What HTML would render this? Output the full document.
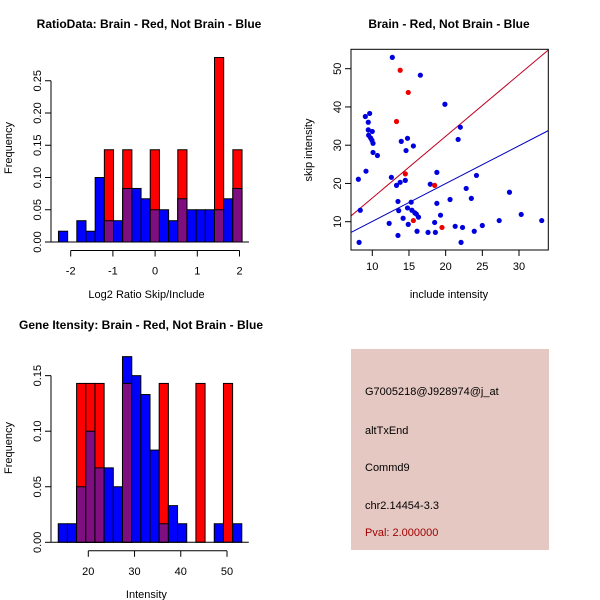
<!DOCTYPE html>
<html><head><meta charset="utf-8"><style>
html,body{margin:0;padding:0;background:#fff}
svg{display:block;font-family:"Liberation Sans",sans-serif}
</style></head><body>
<svg id="s" width="600" height="600" viewBox="0 0 600 600">
<rect width="600" height="600" fill="#fff"/>
<text x="149" y="28" font-size="12" font-weight="bold" text-anchor="middle">RatioData: Brain - Red, Not Brain - Blue</text>
<text x="449" y="28" font-size="12" font-weight="bold" text-anchor="middle">Brain - Red, Not Brain - Blue</text>
<text x="141" y="329" font-size="12" font-weight="bold" text-anchor="middle">Gene Itensity: Brain - Red, Not Brain - Blue</text>
<g id="p1"></g>
<g id="p2"></g>
<g id="p3"></g>
<g>
<rect x="351" y="349" width="198" height="201" fill="#e6c8c2"/>
<text x="365" y="395" font-size="11">G7005218@J928974@j_at</text>
<text x="365" y="434" font-size="11">altTxEnd</text>
<text x="365" y="471" font-size="11">Commd9</text>
<text x="365" y="509" font-size="11">chr2.14454-3.3</text>
<text x="365" y="536" font-size="11" fill="#a00000">Pval: 2.000000</text>
</g>
</svg>
<script>
// ---- data: ratio histogram ----
const ratioBinStart = -2.29;
const ratioBinWidth = 0.2175;
const ratioBlue = [0.0167,0,0.033,0.0167,0.1,0.033,0.033,0.083,0.083,0.067,0.05,0.05,0.033,0.067,0.05,0.05,0.05,0.05,0.067,0.083];
const ratioRed  = [0,0,0,0,0,0.143,0,0.143,0,0,0.143,0,0,0.143,0,0,0,0.286,0,0.143];
const ratioXTicks = [-2,-1,0,1,2];
const ratioYTicks = ["0.00","0.05","0.10","0.15","0.20","0.25"];
// ---- data: intensity histogram ----
const intBinStart = 13.5;
const intBinWidth = 1.985;
const intBlue = [0.0167,0.0167,0.05,0.1,0.067,0.067,0.05,0.167,0.15,0.133,0.083,0.0167,0.033,0.0167,0,0,0,0.0167,0,0.0167];
const intRed  = [0,0,0.143,0.143,0.143,0,0,0.143,0,0,0,0.143,0,0,0,0.143,0,0,0.143,0];
const intXTicks = [20,30,40,50];
const intYTicks = ["0.00","0.05","0.10","0.15"];
// ---- data: scatter ----
const blueX = [12.73,16.55,19.9,9.64,9.05,9.45,9.45,10.0,9.5,9.77,9.95,10.1,10.1,10.7,13.95,14.8,15.6,14.6,22.0,21.7,9.14,8.1,12.6,18.8,24.2,13.3,13.8,14.5,17.9,22.8,28.7,23.5,20.6,13.5,15.3,18.8,14.8,15.4,13.6,8.36,15.8,16.0,16.3,19.3,30.3,14.2,12.3,14.9,18.5,21.3,22.3,25.0,27.3,33.1,16.1,17.6,18.6,23.9,13.5,8.2,22.1];
const blueY = [52.96,48.3,40.7,38.3,37.5,36.0,34.0,33.6,32.6,31.9,31.3,30.5,28.1,27.3,31.0,31.8,29.8,28.6,34.7,31.5,23.2,21.1,21.6,22.9,22.1,19.5,20.3,20.8,19.8,18.7,17.7,16.1,15.8,15.3,15.1,14.8,13.6,13.0,12.9,13.0,12.3,12.0,11.2,11.7,11.9,10.9,9.56,9.3,9.8,8.8,8.5,9.0,10.3,10.3,7.5,7.2,7.2,7.5,6.4,4.6,4.6];
const redX = [13.8,14.9,13.3,14.5,18.5,15.6,19.5];
const redY = [49.6,43.8,36.2,22.5,19.5,10.3,8.5];
const redFit = [0.06,1.613];   // intercept, slope
const blueFit = [0.19,0.989];
const scXTicks = [10,15,20,25,30];
const scYTicks = [10,20,30,40,50];

const NS="http://www.w3.org/2000/svg";
function mk(parent,tag,attrs){const e=document.createElementNS(NS,tag);for(const k in attrs)e.setAttribute(k,attrs[k]);parent.appendChild(e);return e;}

function hist(g,o){
  const xs=v=>o.x0+(v-o.d0)*o.kx, ys=v=>o.y0-v*o.ky;
  for(let i=0;i<o.blue.length;i++){
    const a=xs(o.start+i*o.w), b=xs(o.start+(i+1)*o.w);
    const bl=o.blue[i], rd=o.red[i], mn=Math.min(bl,rd);
    if(bl>0){const r=mk(g,'rect',{x:a,y:ys(bl),width:b-a,height:ys(0)-ys(bl),fill:'#0000ff',stroke:'#000','stroke-width':1});
      
      }
    if(rd>0){const r=mk(g,'rect',{x:a,y:ys(rd),width:b-a,height:ys(0)-ys(rd),fill:'#ff0000',stroke:'#000','stroke-width':1});
      
      }
    if(bl>rd&&rd>0){const r=mk(g,'rect',{x:a,y:ys(bl),width:b-a,height:ys(rd)-ys(bl),fill:'#0000ff',stroke:'#000','stroke-width':1});
      
      }
    if(mn>0){const r=mk(g,'rect',{x:a,y:ys(mn),width:b-a,height:ys(0)-ys(mn),fill:'#7f0f80',stroke:'#000','stroke-width':1});
      
      }
  }
  const xl=xs(o.start), xr=xs(o.start+o.blue.length*o.w);
  const base=mk(g,'line',{x1:o.axX,x2:xr+7,y1:ys(0),y2:ys(0),stroke:'#000'});
  
  
  // y axis
  const ymax=parseFloat(o.yt[o.yt.length-1]);
  const ya1=mk(g,'line',{x1:o.axX,x2:o.axX,y1:ys(0),y2:ys(ymax),stroke:'#000'});
  
  
  o.yt.forEach(t=>{const v=parseFloat(t),y=ys(v);
    mk(g,'line',{x1:o.axX,x2:o.axX-6,y1:y,y2:y,stroke:'#000'});
    const tx=mk(g,'text',{x:0,y:0,'font-size':11,'text-anchor':'middle',transform:`translate(${o.axX-10},${y}) rotate(-90)`});
    tx.textContent=t;
    
    });
  // x axis
  const ya=ys(0)+8.5;
  const xa=mk(g,'line',{x1:xs(o.xt[0]),x2:xs(o.xt[o.xt.length-1]),y1:ya,y2:ya,stroke:'#000'});
  
  
  o.xt.forEach(t=>{const x=xs(t);
    mk(g,'line',{x1:x,x2:x,y1:ya,y2:ya+6,stroke:'#000'});
    const tx=mk(g,'text',{x:x,y:ya+24,'font-size':11,'text-anchor':'middle'});
    tx.textContent=t;
    
    });
  const xl2=mk(g,'text',{x:(o.axX+xr)/2,y:o.xlabY,'font-size':11,'text-anchor':'middle'});
  xl2.textContent=o.xlab;
  
  
  const yl=mk(g,'text',{x:0,y:0,'font-size':11,'text-anchor':'middle',transform:`translate(12,${o.yLabY}) rotate(-90)`});
  yl.textContent='Frequency';
  
  
}

hist(document.getElementById('p1'),{axX:51,x0:70.7,d0:-2,kx:42.2,y0:242,ky:645,start:ratioBinStart,w:ratioBinWidth,blue:ratioBlue,red:ratioRed,xt:ratioXTicks,yt:ratioYTicks,xlab:'Log2 Ratio Skip/Include',xlabY:298,yLabY:148});
hist(document.getElementById('p3'),{axX:51,x0:88.3,d0:20,kx:4.623,y0:542.3,ky:1111,start:intBinStart,w:intBinWidth,blue:intBlue,red:intRed,xt:intXTicks,yt:intYTicks,xlab:'Intensity',xlabY:598,yLabY:448});

// scatter
(function(){
  const g=document.getElementById('p2');
  const L=351,R=548.3,T=49.3,B=250;
  const xs=v=>372.3+(v-10)*7.335, ys=v=>221.7-(v-10)*3.825;
  const clip=mk(g,'clipPath',{id:'sc'});mk(clip,'rect',{x:L,y:T,width:R-L,height:B-T});
  const x0=(L-372.3)/7.335+10, x1=(R-372.3)/7.335+10;
  [[redFit,'#c00020','red-fit-line'],[blueFit,'#0000c0','blue-fit-line']].forEach(([f,c,n])=>{
    const l=mk(g,'line',{x1:xs(x0),y1:ys(f[0]+f[1]*x0),x2:xs(x1),y2:ys(f[0]+f[1]*x1),stroke:c,'clip-path':'url(#sc)'});
    
    });
  blueX.forEach((v,i)=>{const c=mk(g,'circle',{cx:xs(v),cy:ys(blueY[i]),r:2.6,fill:'#0000dd'});
    
    });
  redX.forEach((v,i)=>{const c=mk(g,'circle',{cx:xs(v),cy:ys(redY[i]),r:2.6,fill:'#ee0000'});
    
    });
  const box=mk(g,'rect',{x:L,y:T,width:R-L,height:B-T,fill:'none',stroke:'#000'});
  
  
  scXTicks.forEach(t=>{const x=xs(t);mk(g,'line',{x1:x,x2:x,y1:B,y2:B+6,stroke:'#000'});
    const tx=mk(g,'text',{x:x,y:B+20,'font-size':11,'text-anchor':'middle'});tx.textContent=t;
    
    });
  scYTicks.forEach(t=>{const y=ys(t);mk(g,'line',{x1:L,x2:L-6,y1:y,y2:y,stroke:'#000'});
    const tx=mk(g,'text',{x:0,y:0,'font-size':11,'text-anchor':'middle',transform:`translate(${L-10},${y}) rotate(-90)`});tx.textContent=t;
    
    });
  const xl=mk(g,'text',{x:449,y:298,'font-size':11,'text-anchor':'middle'});xl.textContent='include intensity';
  
  
  const yl=mk(g,'text',{x:0,y:0,'font-size':11,'text-anchor':'middle',transform:'translate(312,150) rotate(-90)'});yl.textContent='skip intensity';
  
  
})();
</script>
</body></html>
